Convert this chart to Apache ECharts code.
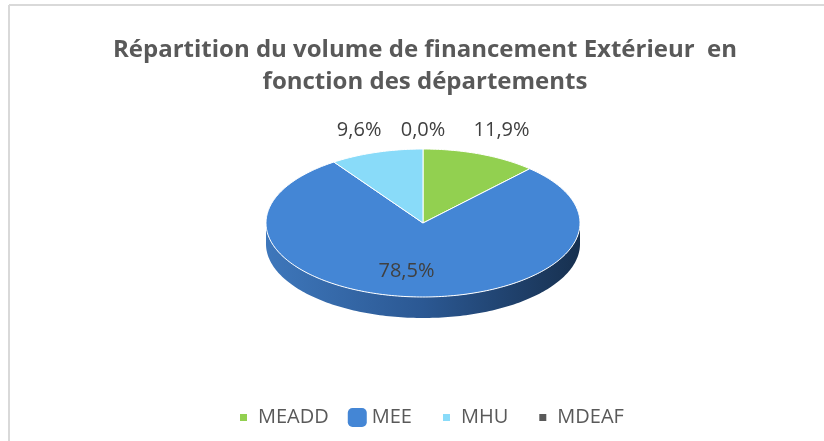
<!DOCTYPE html>
<html>
<head>
<meta charset="utf-8">
<script src="https://cdn.jsdelivr.net/npm/echarts@6/dist/echarts.min.js"></script>
<style>
  html, body { margin: 0; padding: 0; background: #fff; }
  #pie3d { width: 824px; height: 441px; }
</style>
</head>
<body>
<div id="pie3d"></div>
<script>
// données (en %)
var departements = ['MEADD', 'MEE', 'MHU', 'MDEAF'];
var parts = [11.9, 78.5, 9.6, 0.0];
var couleurs = ['#92D050', '#4486D5', '#89DBF9', '#595959'];

var chart = echarts.init(document.getElementById('pie3d'));

// géométrie de la tarte "3D"
var cx = 423, cy = 223, rx = 157, ry = 74, epaisseur = 21;
var labelFont = '20px "Open Sans"';
var total = parts.reduce(function (a, b) { return a + b; }, 0);

function fmt(v) {
    return v.toFixed(1).replace('.', ',') + '%';
}

function pt(a, dy) {
    return [cx + rx * Math.sin(a), cy - ry * Math.cos(a) + (dy || 0)];
}

// angles début / fin de chaque part (sens horaire depuis le haut)
var debuts = [], fins = [];
var cumul = 0;
parts.forEach(function (v) {
    debuts.push(cumul / total * Math.PI * 2);
    cumul += v;
    fins.push(cumul / total * Math.PI * 2);
});

// position des étiquettes (petites parts à l'extérieur, grande à l'intérieur)
var ctx = document.createElement('canvas').getContext('2d');
ctx.font = labelFont;
var etiquettes = parts.map(function (v, i) {
    var mid = (debuts[i] + fins[i]) / 2;
    var w = ctx.measureText(fmt(v)).width;
    if (v / total > 0.5) {
        return { x: cx + rx * 0.75 * Math.sin(mid) - 8, y: cy + ry * 0.65, w: w };
    }
    return { x: cx + 215 * Math.sin(mid), y: 130, w: w, dehors: true };
});
// éviter les chevauchements (on pousse vers la gauche)
var dehors = etiquettes.filter(function (e) { return e.dehors; })
    .sort(function (a, b) { return b.x - a.x; });
for (var k = 1; k < dehors.length; k++) {
    var droite = dehors[k - 1], e = dehors[k];
    var maxX = droite.x - droite.w / 2 - 12 - e.w / 2;
    if (e.x > maxX) e.x = maxX;
}

function arc(a0, a1, dy) {
    var pts = [];
    var n = Math.max(2, Math.ceil((a1 - a0) / 0.02));
    for (var j = 0; j <= n; j++) {
        pts.push(pt(a0 + (a1 - a0) * j / n, dy));
    }
    return pts;
}

function dessinePart(i) {
    return function (params, api) {
        var enfants = [];
        var a0 = debuts[i], a1 = fins[i];
        if (a1 - a0 > 1e-6) {
            // flanc visible (moitié avant)
            var s0 = Math.max(a0, Math.PI / 2), s1 = Math.min(a1, Math.PI * 1.5);
            if (s1 > s0) {
                var haut = arc(s0, s1, 0);
                var bas = arc(s0, s1, epaisseur).reverse();
                enfants.push({
                    type: 'polygon',
                    z2: 1,
                    shape: { points: haut.concat(bas) },
                    style: {
                        fill: new echarts.graphic.LinearGradient(0, 0, 1, 0, [
                            { offset: 0, color: '#3E77BB' },
                            { offset: 0.5, color: '#2B5893' },
                            { offset: 1, color: '#17304F' }
                        ]),
                        stroke: null
                    }
                });
            }
            enfants.push({
                type: 'polygon',
                z2: 2,
                shape: { points: [[cx, cy]].concat(arc(a0, a1, 0)) },
                style: { fill: couleurs[i], stroke: '#fff', lineWidth: 1 }
            });
        }
        var e = etiquettes[i];
        enfants.push({
            type: 'text',
            z2: 3,
            style: {
                text: fmt(api.value(0)),
                x: e.x, y: e.y,
                fill: '#404040',
                font: labelFont,
                align: 'center',
                verticalAlign: 'middle'
            }
        });
        return { type: 'group', children: enfants };
    };
}

var series = departements.map(function (nom, i) {
    return {
        name: nom,
        type: 'custom',
        coordinateSystem: 'none',
        itemStyle: { color: couleurs[i] },
        renderItem: dessinePart(i),
        data: [[parts[i]]]
    };
});

var legendeData = departements.map(function (nom, i) {
    var grand = nom === 'MEE';
    return {
        name: nom,
        icon: grand ? 'roundRect' : 'rect',
        itemStyle: grand ? { color: couleurs[i] } : { color: couleurs[i], borderColor: '#fff', borderWidth: 12 }
    };
});

var option = {
    animation: false,
    title: {
        text: 'Répartition du volume de financement Extérieur  en\nfonction des départements',
        left: 420,
        top: 29,
        textAlign: 'center',
        textStyle: {
            fontFamily: 'Open Sans',
            fontWeight: 'bold',
            fontSize: 24,
            lineHeight: 32,
            color: '#595959'
        }
    },
    legend: {
        data: legendeData,
        left: 223,
        top: 397,
        itemWidth: 19,
        itemHeight: 19,
        itemGap: 19,
        textStyle: { fontFamily: 'Open Sans', fontSize: 20, color: '#595959' }
    },
    graphic: [
        { type: 'line', shape: { x1: 9, y1: 5, x2: 824, y2: 5 }, style: { stroke: '#D9D9D9', lineWidth: 2 } },
        { type: 'line', shape: { x1: 9, y1: 5, x2: 9, y2: 441 }, style: { stroke: '#D9D9D9', lineWidth: 2 } }
    ],
    series: series
};

chart.setOption(option);
</script>
</body>
</html>
